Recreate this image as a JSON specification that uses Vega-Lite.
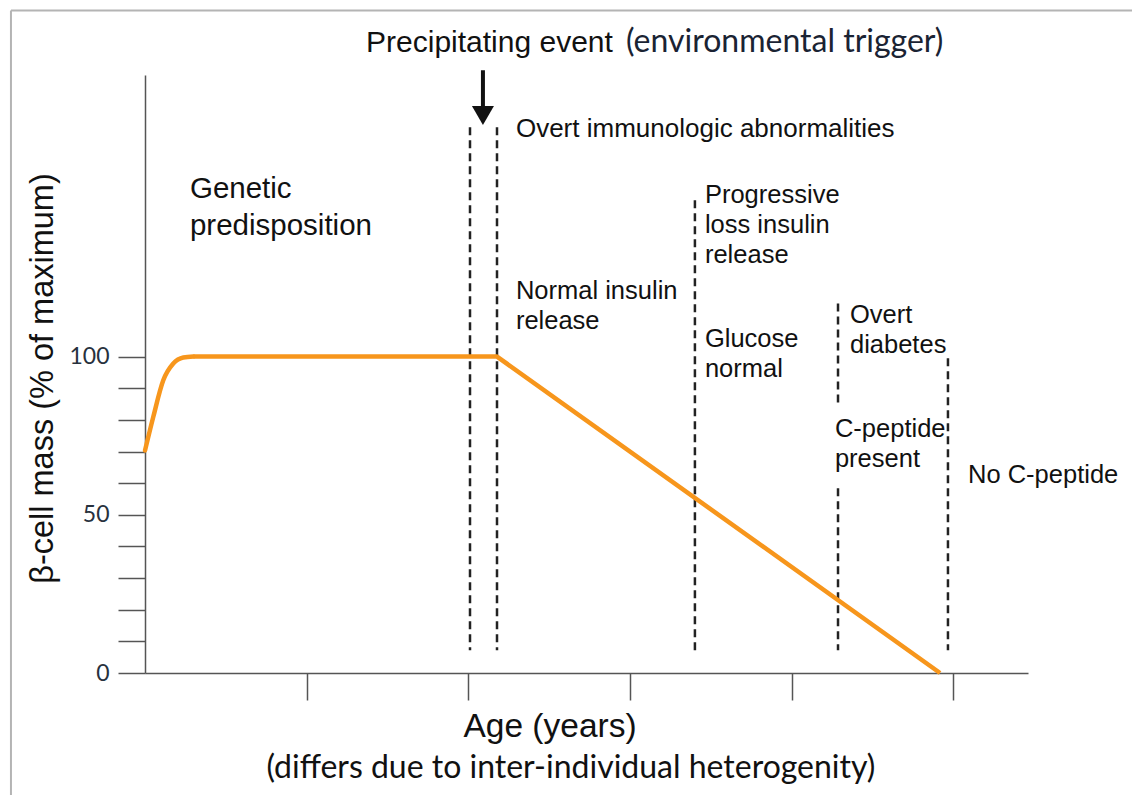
{
  "$schema": "https://vega.github.io/schema/vega-lite/v6.json",
  "width": 883,
  "height": 598,
  "autosize": {"type": "none"},
  "padding": {"left": 145, "top": 75, "right": 104, "bottom": 122},
  "background": "white",
  "config": {"view": {"stroke": null}},
  "datasets": {
    "frame": [
      {"x": -0.829, "x2": 6.3, "y": 209.4, "y2": 209.4},
      {"x": -0.829, "x2": -0.829, "y": 209.4, "y2": -45}
    ],
    "curve": [
      {"x": 0.0, "y": 70.3},
      {"x": 0.051, "y": 80.9},
      {"x": 0.113, "y": 92.5},
      {"x": 0.175, "y": 97.8},
      {"x": 0.237, "y": 99.7},
      {"x": 0.299, "y": 100}
    ],
    "decline": [
      {"x": 0.299, "y": 100},
      {"x": 2.177, "y": 100},
      {"x": 4.917, "y": 0}
    ],
    "dashes": [
      {"x": 2.010, "y": 172.5, "y2": 7.2},
      {"x": 2.177, "y": 172.5, "y2": 7.2},
      {"x": 3.401, "y": 149.4, "y2": 7.2},
      {"x": 4.286, "y": 116.8, "y2": 84.6},
      {"x": 4.286, "y": 58.4, "y2": 7.2},
      {"x": 4.966, "y": 99.5, "y2": 7.2}
    ],
    "arrowShaft": [{"x": 2.09, "y": 190.5, "y2": 177.5}],
    "arrowHead": [{"x": 2.09, "y": 176.2}],
    "notes": [
      {"x": 3.463, "y": 148.7, "label": "Progressive\nloss insulin\nrelease"},
      {"x": 2.294, "y": 118.1, "label": "Normal insulin\nrelease"},
      {"x": 3.463, "y": 102.9, "label": "Glucose\nnormal"},
      {"x": 4.360, "y": 110.5, "label": "Overt\ndiabetes"},
      {"x": 4.267, "y": 74.5, "label": "C-peptide\npresent"},
      {"x": 5.090, "y": 60.0, "label": "No C-peptide"}
    ],
    "immuno": [{"x": 2.294, "y": 169.3, "label": "Overt immunologic abnormalities"}],
    "genetic": [{"x": 0.278, "y": 150.0, "label": "Genetic\npredisposition"}],
    "precip": [{"x": 1.367, "y": 196.2, "label": "Precipitating event"}],
    "trigger": [{"x": 2.975, "y": 196.2, "label": "(environmental trigger)"}],
    "age": [{"x": 2.505, "y": -20.3, "label": "Age (years)"}],
    "differs": [{"x": 2.634, "y": -33.3, "label": "(differs due to inter-individual heterogenity)"}]
  },
  "encoding": {
    "x": {
      "field": "x",
      "type": "quantitative",
      "scale": {"domain": [0, 5.461], "nice": false, "zero": false},
      "axis": {
        "values": [1, 2, 3, 4, 5],
        "labels": false,
        "title": null,
        "grid": false,
        "domainColor": "#555555",
        "domainWidth": 1.5,
        "tickColor": "#555555",
        "tickWidth": 1.5,
        "tickSize": 27
      }
    },
    "y": {
      "field": "y",
      "type": "quantitative",
      "scale": {"domain": [0, 189], "nice": false, "zero": false},
      "axis": {
        "values": [0, 10, 20, 30, 40, 50, 60, 70, 80, 90, 100],
        "labelExpr": "datum.value % 50 == 0 ? datum.label : ''",
        "grid": false,
        "domainColor": "#555555",
        "domainWidth": 1.5,
        "tickColor": "#555555",
        "tickWidth": 1.5,
        "tickSize": 27,
        "labelFont": "Lato",
        "labelFontSize": 23,
        "labelColor": "#27313d",
        "labelPadding": 9,
        "title": "β-cell mass (% of maximum)",
        "titleFont": "Liberation Sans",
        "titleFontSize": 32.5,
        "titleFontWeight": "normal",
        "titleColor": "#111111",
        "titleX": -103,
        "titleY": 303,
        "titleAngle": 270,
        "titleAlign": "center",
        "titleBaseline": "middle"
      }
    }
  },
  "layer": [
    {
      "data": {"name": "frame"},
      "mark": {"type": "rule", "color": "#b4b4b4", "strokeWidth": 2},
      "encoding": {"x2": {"field": "x2"}, "y2": {"field": "y2"}}
    },
    {
      "data": {"name": "dashes"},
      "mark": {"type": "rule", "color": "#222222", "strokeWidth": 2.5, "strokeDash": [8, 5]},
      "encoding": {"y2": {"field": "y2"}}
    },
    {
      "data": {"name": "curve"},
      "mark": {"type": "line", "color": "#f7961c", "strokeWidth": 4.5, "interpolate": "monotone", "strokeCap": "round"}
    },
    {
      "data": {"name": "decline"},
      "mark": {"type": "line", "color": "#f7961c", "strokeWidth": 4.5, "strokeJoin": "round"}
    },
    {
      "data": {"name": "arrowShaft"},
      "mark": {"type": "rule", "color": "#111111", "strokeWidth": 4},
      "encoding": {"y2": {"field": "y2"}}
    },
    {
      "data": {"name": "arrowHead"},
      "mark": {"type": "point", "shape": "triangle-down", "filled": true, "color": "#111111", "size": 484, "opacity": 1}
    },
    {
      "data": {"name": "notes"},
      "mark": {"type": "text", "align": "left", "baseline": "alphabetic", "font": "Liberation Sans", "fontSize": 25.5, "lineHeight": 30, "lineBreak": "\n", "color": "#111111"},
      "encoding": {"text": {"field": "label"}}
    },
    {
      "data": {"name": "immuno"},
      "mark": {"type": "text", "align": "left", "baseline": "alphabetic", "font": "Liberation Sans", "fontSize": 26, "color": "#111111"},
      "encoding": {"text": {"field": "label"}}
    },
    {
      "data": {"name": "genetic"},
      "mark": {"type": "text", "align": "left", "baseline": "alphabetic", "font": "Liberation Sans", "fontSize": 29.5, "lineHeight": 37, "lineBreak": "\n", "color": "#111111"},
      "encoding": {"text": {"field": "label"}}
    },
    {
      "data": {"name": "precip"},
      "mark": {"type": "text", "align": "left", "baseline": "alphabetic", "font": "Liberation Sans", "fontSize": 30, "color": "#111111"},
      "encoding": {"text": {"field": "label"}}
    },
    {
      "data": {"name": "trigger"},
      "mark": {"type": "text", "align": "left", "baseline": "alphabetic", "font": "Lato", "fontSize": 32, "color": "#1a2333"},
      "encoding": {"text": {"field": "label"}}
    },
    {
      "data": {"name": "age"},
      "mark": {"type": "text", "align": "center", "baseline": "alphabetic", "font": "Liberation Sans", "fontSize": 33.5, "color": "#111111"},
      "encoding": {"text": {"field": "label"}}
    },
    {
      "data": {"name": "differs"},
      "mark": {"type": "text", "align": "center", "baseline": "alphabetic", "font": "Lato", "fontSize": 32, "color": "#111111"},
      "encoding": {"text": {"field": "label"}}
    }
  ]
}
